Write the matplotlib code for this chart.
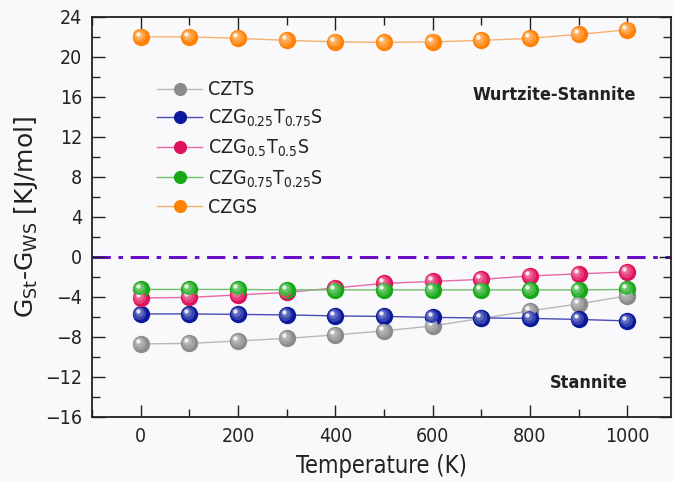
import matplotlib
matplotlib.use("Agg")
import matplotlib.pyplot as plt
from matplotlib.transforms import offset_copy
from matplotlib.lines import Line2D
from matplotlib.ticker import MultipleLocator
import numpy as np

plt.rcParams['font.family'] = ['DejaVu Sans']
plt.rcParams['font.stretch'] = 'condensed'
plt.rcParams['mathtext.default'] = 'regular'

temperature = [0, 100, 200, 300, 400, 500, 600, 700, 800, 900, 1000]
czts = [-8.7, -8.65, -8.4, -8.15, -7.8, -7.4, -6.9, -6.15, -5.4, -4.7, -3.9]
czg25 = [-5.7, -5.7, -5.75, -5.8, -5.9, -5.95, -6.05, -6.1, -6.15, -6.25, -6.4]
czg50 = [-4.1, -4.05, -3.8, -3.55, -3.1, -2.65, -2.45, -2.25, -1.9, -1.7, -1.5]
czg75 = [-3.25, -3.25, -3.25, -3.3, -3.3, -3.3, -3.3, -3.3, -3.3, -3.3, -3.25]
czgs = [22.0, 22.0, 21.85, 21.65, 21.5, 21.45, 21.5, 21.65, 21.85, 22.25, 22.7]

labels = ['CZTS', r'CZG$_{0.25}$T$_{0.75}$S', r'CZG$_{0.5}$T$_{0.5}$S',
          r'CZG$_{0.75}$T$_{0.25}$S', 'CZGS']
series = [czts, czg25, czg50, czg75, czgs]
ball_colors = ['#8c8c8c', '#0b1a9c', '#e0125c', '#16a816', '#ff8206']
line_colors = ['#b8b8b8', '#4a4ab8', '#e66aa8', '#70c070', '#f5b070']

fig = plt.figure(figsize=(6.73, 4.82), dpi=100)
fig.patch.set_facecolor('#f9f9fb')
ax = fig.add_axes([0.137, 0.135, 0.860, 0.830])
ax.set_facecolor('#f9f9fb')

ax.axhline(0, color='#6a0fc8', lw=2.2, ls=(0, (6, 2.5, 1.5, 2.5)), zorder=1)


def shade(c, f):
    c = np.array(matplotlib.colors.to_rgb(c))
    return tuple(c + (1 - c) * f)


def balls(x, y, color, ms=12.5):
    # sphere-like markers: base disc plus lighter offset layers and a highlight
    ax.plot(x, y, 'o', ms=ms, color=color, mec='none', zorder=4)
    layers = [(0.75, 0.18, -1.0, 1.0), (0.5, 0.35, -1.6, 1.6), (0.25, 0.9, -2.2, 2.2)]
    for scale, f, dx, dy in layers:
        tr = offset_copy(ax.transData, fig=fig, x=dx, y=dy, units='points')
        ax.plot(x, y, 'o', ms=ms * scale, color=shade(color, f), mec='none',
                transform=tr, zorder=5)


for vals, bc, lc in zip(series, ball_colors, line_colors):
    ax.plot(temperature, vals, '-', color=lc, lw=1.0, zorder=3)
    balls(temperature, vals, bc)

ax.set_xlim(-100, 1090)
ax.set_ylim(-16, 24)
ax.xaxis.set_major_locator(MultipleLocator(200))
ax.xaxis.set_minor_locator(MultipleLocator(100))
ax.yaxis.set_major_locator(MultipleLocator(4))
ax.yaxis.set_minor_locator(MultipleLocator(2))
ax.tick_params(which='both', direction='in', top=True, right=True,
               labelsize=14, width=1.0, color='#222222', labelcolor='#222222')
ax.tick_params(which='major', length=9, pad=7)
ax.tick_params(which='minor', length=6)
for s in ax.spines.values():
    s.set_linewidth(1.3)
    s.set_color('#222222')

ax.set_xlabel('Temperature (K)', fontsize=17, color='#222222', labelpad=6)
ax.set_ylabel(r'G$_{St}$-G$_{WS}$ [KJ/mol]', fontsize=18, color='#222222',
              labelpad=4, fontstretch='normal')

handles = [Line2D([], [], color=lc, lw=1.0, marker='o', ms=9.5, mfc=bc, mec='none')
           for bc, lc in zip(ball_colors, line_colors)]
ax.legend(handles, labels, loc='upper left', bbox_to_anchor=(0.082, 0.885),
          frameon=False, fontsize=14, handlelength=2.3, handletextpad=0.3,
          labelspacing=0.45, labelcolor='#222222')

ax.text(850, 16.2, 'Wurtzite-Stannite', fontsize=13, fontweight='bold',
        ha='center', va='center', color='#222222')
ax.text(920, -12.6, 'Stannite', fontsize=13, fontweight='bold',
        ha='center', va='center', color='#222222')

fig.savefig('out.png', dpi=100, facecolor=fig.get_facecolor())
